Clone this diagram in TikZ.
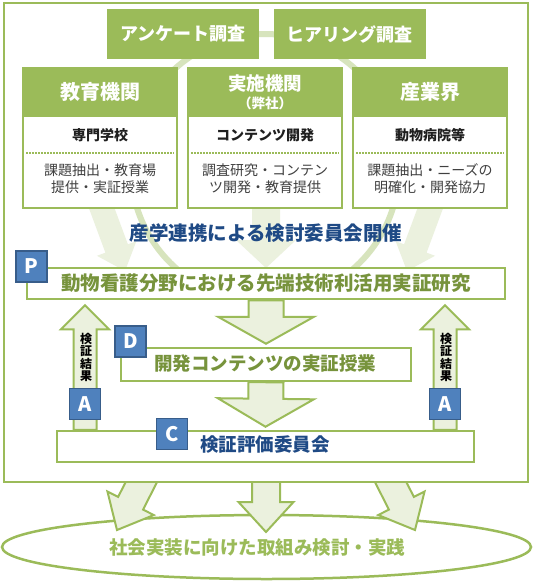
\documentclass[tikz,border=0pt]{standalone}
\usepackage{fontspec}
\setmainfont{Noto Sans CJK JP}
\usetikzlibrary{calc,shapes.geometric}
\definecolor{ggreen}{HTML}{9BBB59}
\definecolor{pale}{HTML}{EBF1DE}
\definecolor{ringc}{HTML}{D7E4BD}
\definecolor{navy}{HTML}{1F4A85}
\definecolor{olive}{HTML}{77933C}
\definecolor{pblue}{HTML}{4F81BD}
\definecolor{pedge}{HTML}{385D8A}
\definecolor{bodygray}{HTML}{404040}
% block arrow: #1 style, #2 start, #3 tip, #4 shaft half width, #5 head half width, #6 head length
\newcommand\blockarr[6]{%
  \coordinate (ba-s) at #2;
  \coordinate (ba-t) at #3;
  \coordinate (ba-b) at ($(ba-t)!#6!(ba-s)$);
  \path[#1] ($(ba-s)!#4!90:(ba-t)$) -- ($(ba-b)!#4!90:(ba-t)$) -- ($(ba-b)!#5!90:(ba-t)$)
    -- (ba-t) -- ($(ba-b)!#5!-90:(ba-t)$) -- ($(ba-b)!#4!-90:(ba-t)$) -- ($(ba-s)!#4!-90:(ba-t)$) -- cycle;
}
\tikzset{
  topbox/.style={fill=ggreen, text=white, font=\bfseries\fontsize{18}{18}\selectfont, minimum width=152pt, minimum height=50pt, inner sep=0pt},
  orgbox/.style={draw=ggreen, line width=2.5pt, fill=white, minimum width=154pt, minimum height=140pt, inner sep=0pt},
  orghead/.style={fill=ggreen, minimum width=154pt, minimum height=49pt, inner sep=0pt},
  headtxt/.style={text=white, font=\bfseries\fontsize{20}{20}\selectfont, inner sep=0pt},
  subtxt/.style={text=black!88, font=\bfseries\fontsize{14}{14}\selectfont, inner sep=0pt},
  bodytxt/.style={text=bodygray, font=\fontsize{14}{17}\selectfont, align=center, inner sep=0pt},
  rectg/.style={draw=ggreen, line width=2.5pt, fill=white, inner sep=0pt},
  pdca/.style={fill=pblue, draw=pedge, line width=1.5pt, minimum size=31pt, inner sep=0pt, text=white, font=\bfseries\fontsize{20}{20}\selectfont},
  blkarr/.style={fill=pale, draw=ggreen, line width=2pt, line join=miter},
  palearr/.style={fill=pale},
  dotline/.style={draw=ggreen, line width=1.5pt, dash pattern=on 1.5pt off 1.5pt},
  vtxt/.style={font=\bfseries\fontsize{12}{12.5}\selectfont, align=center, inner sep=0pt, text=black}
}
\begin{document}
\begin{tikzpicture}[x=1pt,y=-1pt]
\useasboundingbox (0,0) rectangle (533,581);

% goal ellipse
\node[draw=ggreen, line width=2.5pt, fill=white, ellipse, minimum width=529pt, minimum height=64pt, inner sep=0pt] (goal) at (266.5,547) {};

% arrows from frame to goal
\blockarr{blkarr}{(147,471)}{(117,530)}{14pt}{26pt}{30pt}
\blockarr{blkarr}{(266,470)}{(266,532)}{14pt}{27.5pt}{30pt}
\blockarr{blkarr}{(385,471)}{(415,530)}{14pt}{26pt}{30pt}

% outer frame
\node[draw=ggreen, line width=2.5pt, fill=white, minimum width=524pt, minimum height=479pt, inner sep=0pt] (frame) at (266,242.5) {};

\node[text=ggreen, font=\bfseries\fontsize{18.5}{18.5}\selectfont, inner sep=0pt] (goaltxt) at (257,547) {社会実装に向けた取組み検討・実践};

% pale background arrows and ring
\blockarr{palearr}{(82,155)}{(125,271)}{12pt}{21pt}{24pt}
\blockarr{palearr}{(266,150)}{(266,268)}{14pt}{30pt}{28pt}
\blockarr{palearr}{(450,155)}{(407,271)}{12pt}{21pt}{24pt}
\begin{scope}
  \clip (0,0) rectangle (533,299);
  \draw[ringc, line width=6pt] (265,168) circle[radius=134];
\end{scope}

% top boxes
\node[topbox] (ank) at (183,34) {アンケート調査};
\node[topbox] (hear) at (349.5,34) {ヒアリング調査};

% organisation boxes
\foreach \n/\cx in {1/100,2/265,3/430} {
  \node[orgbox] (org\n) at (\cx,138) {};
  \node[orghead] (orghd\n) at (\cx,92.5) {};
  \draw[dotline] (\cx-74,153) -- (\cx+74,153);
}
\node[headtxt] (hd1) at (100,92) {教育機関};
\node[headtxt, font=\bfseries\fontsize{18.5}{18.5}\selectfont] (hd2a) at (265,83) {実施機関};
\node[headtxt, font=\bfseries\fontsize{13.5}{13.5}\selectfont] (hd2b) at (265,103.5) {（弊社）};
\node[headtxt] (hd3) at (430,92) {産業界};

\node[subtxt] (sub1) at (100,135) {専門学校};
\node[subtxt] (sub2) at (265,135) {コンテンツ開発};
\node[subtxt] (sub3) at (430,135) {動物病院等};

\node[bodytxt] (body1) at (100,178.5) {課題抽出・教育場\\提供・実証授業};
\node[bodytxt] (body2) at (265,178.5) {調査研究・コンテン\\ツ開発・教育提供};
\node[bodytxt] (body3) at (430,178.5) {課題抽出・ニーズの\\明確化・開発協力};

% title
\node[text=navy, font=\bfseries\fontsize{19.5}{19.5}\selectfont, inner sep=0pt] (title) at (266,233) {産学連携による検討委員会開催};

% PDCA rectangles
\node[rectg, minimum width=478pt, minimum height=31pt, text=olive, font=\bfseries\fontsize{19.5}{19.5}\selectfont] (prect) at (266,283.5) {動物看護分野における先端技術利活用実証研究};
\node[rectg, minimum width=290pt, minimum height=33pt] (drect) at (266,364.5) {};
\node[text=olive, font=\bfseries\fontsize{18.5}{18.5}\selectfont, inner sep=0pt] (dtxt) at (265,363.5) {開発コンテンツの実証授業};
\node[rectg, minimum width=417pt, minimum height=31pt] (crect) at (265.5,446.5) {};
\node[text=navy, font=\bfseries\fontsize{18.5}{18.5}\selectfont, inner sep=0pt] (ctxt) at (265,444.5) {検証評価委員会};

% flow arrows
\coordinate (upL) at (85,0);
\coordinate (upR) at (445,0);
\blockarr{blkarr}{(prect.south)}{($(drect.north)+(0,-3)$)}{17.5pt}{48pt}{27pt}
\blockarr{blkarr}{(drect.south)}{($(crect.north)+(0,-3)$)}{17.5pt}{48pt}{28pt}
\blockarr{blkarr}{(crect.north -| upL)}{($(prect.south -| upL)+(0,5)$)}{11.5pt}{24pt}{24pt}
\blockarr{blkarr}{(crect.north -| upR)}{($(prect.south -| upR)+(0,5)$)}{11.5pt}{24pt}{24pt}

\node[vtxt] (vtL) at (86,357.5) {検\\証\\結\\果};
\node[vtxt] (vtR) at (446,357.5) {検\\証\\結\\果};

% PDCA squares
\node[pdca] (sqP) at (31.5,266.5) {P};
\node[pdca] (sqD) at (130.5,341.5) {D};
\node[pdca] (sqC) at (172,434) {C};
\node[pdca] (sqAL) at (85,404) {A};
\node[pdca] (sqAR) at (445,404) {A};
\end{tikzpicture}
\end{document}
